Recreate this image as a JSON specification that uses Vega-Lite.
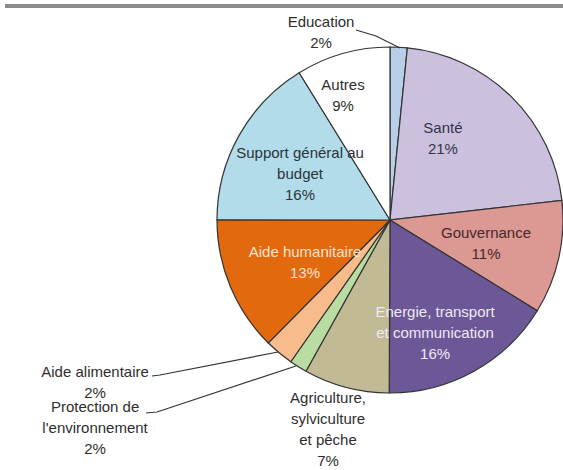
{
  "$schema": "https://vega.github.io/schema/vega-lite/v6.json",
  "width": 346,
  "height": 346,
  "autosize": {"type": "none"},
  "padding": {"left": 217, "top": 47, "right": 0, "bottom": 77},
  "background": "white",
  "config": {"view": {"stroke": null}, "text": {"font": "Liberation Sans"}},
  "datasets": {
    "slices": [
      {"order": 1, "name": "Education", "share": 1.6, "label": "Education\n2%", "ang": 340.8, "r": 209.7, "tcol": "#2e2e2e"},
      {"order": 2, "name": "Santé", "share": 21.6, "label": "Santé\n21%", "ang": 29.9, "r": 106.2, "tcol": "#36324a"},
      {"order": 3, "name": "Gouvernance", "share": 10.6, "label": "Gouvernance\n11%", "ang": 97.7, "r": 96.9, "tcol": "#46292a"},
      {"order": 4, "name": "Energie, transport et communication", "share": 16.3, "label": "Energie, transport\net communication\n16%", "ang": 153.9, "r": 102.4, "tcol": "#efeaf5"},
      {"order": 5, "name": "Agriculture, sylviculture et pêche", "share": 8.0, "label": "Agriculture,\nsylviculture\net pêche\n7%", "ang": 199.2, "r": 188.5, "tcol": "#2e2e2e"},
      {"order": 6, "name": "Protection de l'environnement", "share": 1.65, "label": "Protection de\nl'environnement\n2%", "ang": 237.6, "r": 349.3, "tcol": "#2e2e2e"},
      {"order": 7, "name": "Aide alimentaire", "share": 2.7, "label": "Aide alimentaire\n2%", "ang": 242.7, "r": 331.9, "tcol": "#2e2e2e"},
      {"order": 8, "name": "Aide humanitaire", "share": 12.6, "label": "Aide humanitaire\n13%", "ang": 249.4, "r": 90.8, "tcol": "#fde3cf"},
      {"order": 9, "name": "Support général au budget", "share": 16.2, "label": "Support général au\nbudget\n16%", "ang": 306.7, "r": 112.2, "tcol": "#2a3439"},
      {"order": 10, "name": "Autres", "share": 8.8, "label": "Autres\n9%", "ang": 340.8, "r": 143, "tcol": "#2e2e2e"}
    ],
    "leaders": [
      {"id": "edu", "seq": 1, "px": 356, "py": 30},
      {"id": "edu", "seq": 2, "px": 376, "py": 36},
      {"id": "edu", "seq": 3, "px": 400, "py": 48},
      {"id": "ali", "seq": 1, "px": 152, "py": 376},
      {"id": "ali", "seq": 2, "px": 160, "py": 375},
      {"id": "ali", "seq": 3, "px": 278, "py": 352},
      {"id": "env", "seq": 1, "px": 146, "py": 413},
      {"id": "env", "seq": 2, "px": 157, "py": 412},
      {"id": "env", "seq": 3, "px": 296, "py": 366}
    ],
    "topline": [{"px": 5, "px2": 563, "py": 6}]
  },
  "layer": [
    {
      "data": {"name": "slices"},
      "mark": {"type": "arc", "radius": 173, "stroke": "#333333", "strokeWidth": 1.2},
      "encoding": {
        "theta": {"field": "share", "type": "quantitative", "stack": true},
        "order": {"field": "order", "type": "quantitative"},
        "color": {
          "field": "name",
          "type": "nominal",
          "legend": null,
          "scale": {
            "domain": ["Education", "Santé", "Gouvernance", "Energie, transport et communication", "Agriculture, sylviculture et pêche", "Protection de l'environnement", "Aide alimentaire", "Aide humanitaire", "Support général au budget", "Autres"],
            "range": ["#b9cfe8", "#cbc1de", "#dc9893", "#6c5797", "#c2b995", "#b8dca2", "#f7bb8c", "#e3690f", "#b2dcea", "#ffffff"]
          }
        }
      }
    },
    {
      "data": {"name": "slices"},
      "mark": {"type": "text", "fontSize": 15, "lineHeight": 21, "lineBreak": "\n", "align": "center", "baseline": "middle"},
      "encoding": {
        "theta": {"field": "ang", "type": "quantitative", "stack": null, "scale": {"domain": [0, 360], "range": [0, 6.283185307]}},
        "radius": {"field": "r", "type": "quantitative", "scale": {"type": "linear", "domain": [0, 173], "range": [0, 173], "zero": true}},
        "text": {"field": "label", "type": "nominal"},
        "color": {"field": "tcol", "type": "nominal", "scale": null}
      }
    },
    {
      "data": {"name": "leaders"},
      "mark": {"type": "line", "color": "#333333", "strokeWidth": 1.2},
      "encoding": {
        "x": {"field": "px", "type": "quantitative", "axis": null, "scale": {"domain": [217, 563], "nice": false, "zero": false}},
        "y": {"field": "py", "type": "quantitative", "axis": null, "scale": {"domain": [47, 393], "range": [0, 346], "nice": false, "zero": false}},
        "detail": {"field": "id", "type": "nominal"},
        "order": {"field": "seq", "type": "quantitative"}
      }
    },
    {
      "data": {"name": "topline"},
      "mark": {"type": "rule", "color": "#8c8c8c", "strokeWidth": 4},
      "encoding": {
        "x": {"field": "px", "type": "quantitative", "axis": null, "scale": {"domain": [217, 563], "nice": false, "zero": false}},
        "x2": {"field": "px2"},
        "y": {"field": "py", "type": "quantitative", "axis": null, "scale": {"domain": [47, 393], "range": [0, 346], "nice": false, "zero": false}}
      }
    }
  ],
  "resolve": {"scale": {"theta": "independent", "radius": "independent", "color": "independent"}}
}
